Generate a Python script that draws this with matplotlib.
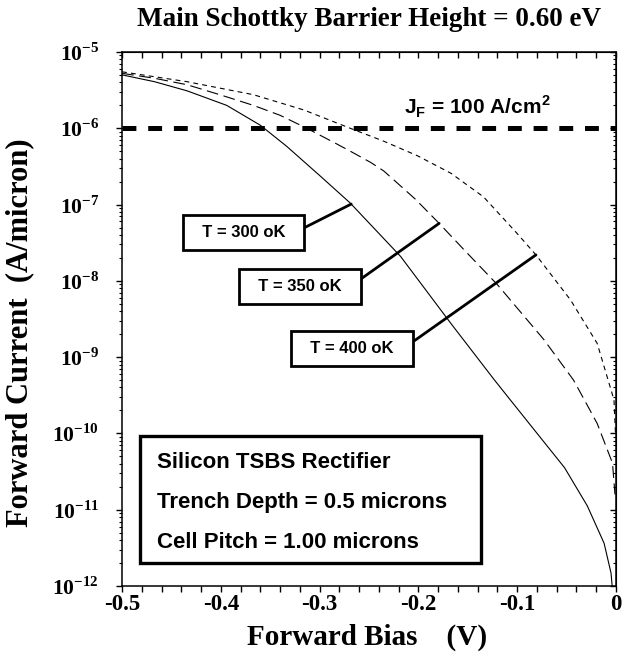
import matplotlib
matplotlib.use('Agg')
import matplotlib.pyplot as plt
import numpy as np
from matplotlib.patches import Rectangle
from matplotlib.ticker import MultipleLocator, LogLocator, NullFormatter

plt.rcParams['font.family'] = ['Liberation Serif', 'DejaVu Serif']
plt.rcParams['mathtext.fontset'] = 'custom'
plt.rcParams['mathtext.rm'] = 'Liberation Serif:bold'
plt.rcParams['mathtext.bf'] = 'Liberation Sans:bold'
plt.rcParams['lines.scale_dashes'] = False

# forward bias (V) and log10 of forward current (A/micron)
v_300 = [-0.500, -0.467, -0.434, -0.394, -0.360, -0.333, -0.299, -0.269, -0.218, -0.167,
         -0.123, -0.107, -0.086, -0.052, -0.029, -0.012, -0.005, -0.0035]
log_300 = [-5.30, -5.39, -5.51, -5.70, -5.96, -6.24, -6.63, -6.98, -7.68, -8.56,
           -9.30, -9.56, -9.90, -10.45, -10.95, -11.44, -11.83, -12.05]

v_350 = [-0.500, -0.467, -0.434, -0.401, -0.367, -0.340, -0.313, -0.282, -0.269, -0.248,
         -0.235, -0.203, -0.178, -0.154, -0.120, -0.073, -0.043, -0.032, -0.019,
         -0.0035, -0.001]
log_350 = [-5.28, -5.345, -5.43, -5.56, -5.70, -5.83, -6.00, -6.21, -6.30, -6.45,
           -6.56, -6.93, -7.26, -7.59, -8.05, -8.77, -9.30, -9.56, -9.87,
           -10.39, -10.80]

v_400 = [-0.500, -0.434, -0.367, -0.316, -0.269, -0.235, -0.201, -0.167, -0.134,
         -0.100, -0.081, -0.046, -0.019, -0.002, -0.0005]
log_400 = [-5.26, -5.39, -5.56, -5.76, -6.00, -6.17, -6.36, -6.59, -6.90,
           -7.38, -7.66, -8.25, -8.82, -9.56, -10.0]

jf_current = 1e-6

x_ticks = [-0.5, -0.4, -0.3, -0.2, -0.1, 0.0]
x_labels = ['-0.5', '-0.4', '-0.3', '-0.2', '-0.1', '0']
y_exps = [-12, -11, -10, -9, -8, -7, -6, -5]

temp_labels = ['T = 300 oK', 'T = 350 oK', 'T = 400 oK']
info_lines = ['Silicon TSBS Rectifier',
              'Trench Depth = 0.5 microns',
              'Cell Pitch = 1.00 microns']

fig = plt.figure(figsize=(6.23, 6.57), dpi=100)
ax = fig.add_axes([0.1958, 0.1081, 0.7929, 0.8128])

ax.plot(v_300, 10.0 ** np.array(log_300), color='black', lw=0.8)
ax.plot(v_350, 10.0 ** np.array(log_350), color='black', lw=0.8, dashes=(8.5, 4))
ax.plot(v_400, 10.0 ** np.array(log_400), color='black', lw=0.8, dashes=(3.5, 3))
ax.axhline(jf_current, color='black', lw=3.6, dashes=(10, 8.5))

ax.set_yscale('log')
ax.set_xlim(-0.5, 0)
ax.set_ylim(1e-12, 1e-5)

ax.set_xticks(x_ticks, labels=x_labels, fontsize=16.5, fontweight='bold')
ax.xaxis.set_minor_locator(MultipleLocator(0.02))
ax.set_yticks([10.0 ** e for e in y_exps],
              labels=['10$^{\\mathrm{%d}}$' % e for e in y_exps],
              fontsize=15.5, fontweight='bold')
ax.yaxis.set_minor_locator(LogLocator(base=10, subs=np.arange(2, 10)))
ax.yaxis.set_minor_formatter(NullFormatter())
ax.tick_params(axis='x', which='both', direction='out', length=4, width=1, pad=1.5)
ax.tick_params(axis='y', which='major', direction='out', length=4.5, width=1, pad=12)
ax.tick_params(axis='y', which='minor', direction='out', length=2.5, width=0.8)
for s in ax.spines.values():
    s.set_linewidth(1.1)

top = ax.secondary_xaxis('top')
top.set_xticks(x_ticks)
top.xaxis.set_minor_locator(MultipleLocator(0.02))
top.xaxis.set_major_formatter(NullFormatter())
top.tick_params(which='both', direction='in', length=4, width=1)

right = ax.secondary_yaxis('right')
right.yaxis.set_major_locator(LogLocator(base=10))
right.yaxis.set_minor_locator(LogLocator(base=10, subs=np.arange(2, 10)))
right.yaxis.set_major_formatter(NullFormatter())
right.yaxis.set_minor_formatter(NullFormatter())
right.tick_params(which='major', direction='in', length=4.5, width=1)
right.tick_params(which='minor', direction='in', length=2.5, width=0.8)

ax.set_xlabel('Forward Bias    (V)', fontsize=21, fontweight='bold')
ax.xaxis.set_label_coords(0.497, -0.0955)
ax.xaxis.label.set_va('center')
ax.set_ylabel('Forward Current  (A/micron)', fontsize=22, fontweight='bold')
ax.yaxis.set_label_coords(-0.207, 0.475)
ax.yaxis.label.set_va('center')

ax.text(0.5, 1.06, 'Main Schottky Barrier Height = 0.60 eV', transform=ax.transAxes,
        ha='center', va='center', fontsize=19.5, fontweight='bold')

ax.text(-0.215, 10 ** -5.72, 'J$_\\mathbf{F}$ = 100 A/cm$^\\mathbf{2}$',
        ha='left', va='center', fontsize=15, fontweight='bold', family='Liberation Sans')

# temperature labels with leader lines to their curves
curves = [(v_300, log_300), (v_350, log_350), (v_400, log_400)]
leader_v = [-0.268, -0.179, -0.081]
box_pos = [(-0.377, -7.37), (-0.320, -8.07), (-0.267, -8.89)]
for lab, (vv, ll), lv, (bx, by) in zip(temp_labels, curves, leader_v, box_pos):
    ly = np.interp(lv, vv, ll)
    ax.annotate('  ' + lab + '  ', xy=(lv, 10 ** ly), xytext=(bx, 10 ** by),
                ha='center', va='center', fontsize=12, fontweight='bold',
                family='Liberation Sans',
                bbox=dict(boxstyle='square,pad=0.6', fc='white', ec='black', lw=2),
                arrowprops=dict(arrowstyle='-', lw=2, color='black',
                                relpos=(1, 0.5), shrinkA=0, shrinkB=0))

ax.add_patch(Rectangle((0.0365, 0.043), 0.690, 0.238, transform=ax.transAxes,
                       fc='white', ec='black', lw=2.4, zorder=4))
for i, line in enumerate(info_lines):
    ax.text(0.071, 0.232 - i * 0.075, line, transform=ax.transAxes,
            ha='left', va='center', fontsize=16, fontweight='bold',
            family='Liberation Sans', zorder=5)

fig.savefig('out.png', dpi=100)
